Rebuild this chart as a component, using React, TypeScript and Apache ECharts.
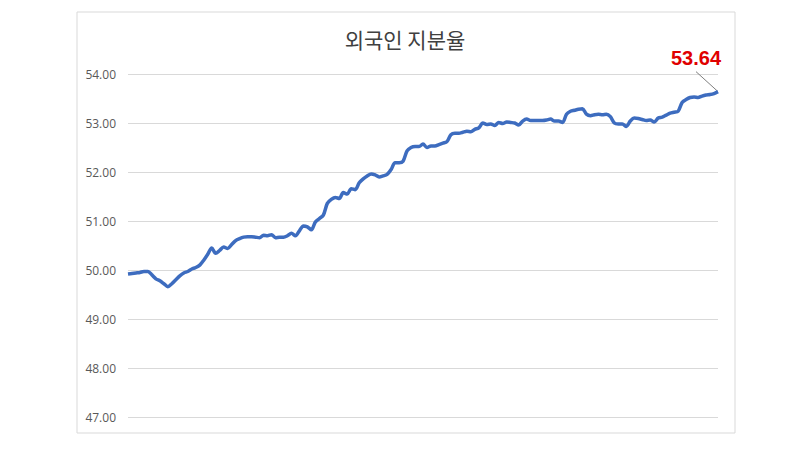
import { useEffect, useRef } from 'react';
import * as echarts from 'echarts';

const TITLE = '외국인 지분율';
const Y_MIN = 47;
const Y_MAX = 54;

// 외국인 지분율 (%), oldest → newest
const ratio: number[] = [
  49.92, 49.93, 49.94, 49.95, 49.97, 49.97, 49.9, 49.82, 49.78, 49.72,
  49.66, 49.72, 49.8, 49.88, 49.94, 49.97, 50.02, 50.05, 50.1, 50.2,
  50.32, 50.45, 50.34, 50.4, 50.47, 50.44, 50.52, 50.6, 50.64, 50.67,
  50.68, 50.68, 50.67, 50.66, 50.71, 50.7, 50.72, 50.66, 50.67, 50.67,
  50.7, 50.75, 50.7, 50.8, 50.9, 50.88, 50.82, 50.98, 51.05, 51.12,
  51.36, 51.44, 51.48, 51.46, 51.58, 51.55, 51.66, 51.64, 51.78, 51.86,
  51.92, 51.96, 51.94, 51.9, 51.92, 51.95, 52.05, 52.19, 52.19, 52.22,
  52.43, 52.5, 52.52, 52.52, 52.57, 52.5, 52.53, 52.53, 52.56, 52.59,
  52.62, 52.76, 52.79, 52.79, 52.81, 52.83, 52.82, 52.87, 52.9, 53.0,
  52.97, 52.98, 52.95, 53.01, 52.99, 53.02, 53.01, 53.0, 52.96, 53.04,
  53.08, 53.05, 53.05, 53.05, 53.05, 53.06, 53.08, 53.04, 53.04, 53.01,
  53.18, 53.24, 53.26, 53.28, 53.29, 53.18, 53.15, 53.17, 53.18, 53.17,
  53.18, 53.13, 53.0, 52.98, 52.98, 52.93, 53.04, 53.1, 53.09, 53.07,
  53.05, 53.06, 53.02, 53.1, 53.12, 53.16, 53.2, 53.22, 53.24, 53.42,
  53.48, 53.52, 53.53, 53.52, 53.55, 53.57, 53.58, 53.6, 53.64,
];
const days = ratio.map((_, i) => String(i + 1));

export default function App() {
  const ref = useRef<HTMLDivElement>(null);

  useEffect(() => {
    if (!ref.current) return;
    const chart = echarts.init(ref.current, undefined, { renderer: 'svg' });
    chart.setOption({
      animation: false,
      backgroundColor: '#fff',
      grid: { left: 128, right: 82, top: 74, bottom: 32 },
      xAxis: {
        type: 'category',
        data: days,
        boundaryGap: false,
        axisLine: { show: false },
        axisTick: { show: false },
        axisLabel: { show: false },
        splitLine: { show: false },
      },
      yAxis: {
        type: 'value',
        min: Y_MIN,
        max: Y_MAX,
        interval: 1,
        axisLine: { show: false },
        axisTick: { show: false },
        axisLabel: {
          formatter: (v: number) => v.toFixed(2),
          color: '#595959',
          fontSize: 12,
          margin: 12,
          fontFamily: '"Open Sans", "Noto Sans", sans-serif',
        },
        splitLine: { lineStyle: { color: '#d9d9d9', width: 1 } },
      },
      series: [
        {
          type: 'line',
          data: ratio,
          showSymbol: false,
          smooth: 0.3,
          lineStyle: { color: '#3d6cbf', width: 3.5 },
          itemStyle: { color: '#3d6cbf' },
        },
      ],
    });

    // frame, title and the call-out for the latest value
    const last = ratio.length - 1;
    const [px, py] = chart.convertToPixel({ gridIndex: 0 }, [last, ratio[last]]) as number[];
    chart.setOption({
      graphic: [
        {
          type: 'rect',
          shape: { x: 77, y: 12, width: 658, height: 421 },
          style: { fill: 'none', stroke: '#d9d9d9', lineWidth: 1 },
          silent: true,
        },
        {
          type: 'text',
          x: 405,
          y: 39,
          style: {
            text: TITLE,
            fill: '#404040',
            font: '21px "Noto Sans CJK KR", sans-serif',
            textAlign: 'center',
            textVerticalAlign: 'middle',
          },
        },
        {
          type: 'line',
          shape: { x1: px - 22, y1: py - 20, x2: px, y2: py },
          style: { stroke: '#7f7f7f', lineWidth: 1 },
        },
        {
          type: 'text',
          x: px - 22,
          y: py - 34,
          style: {
            text: ratio[last].toFixed(2),
            fill: '#e00000',
            font: 'bold 20px "Liberation Sans", Arial, sans-serif',
            textAlign: 'center',
            textVerticalAlign: 'middle',
          },
        },
      ],
    });

    return () => chart.dispose();
  }, []);

  return (
    <div
      ref={ref}
      style={{ position: 'absolute', left: 0, top: 0, width: 800, height: 449 }}
    />
  );
}
